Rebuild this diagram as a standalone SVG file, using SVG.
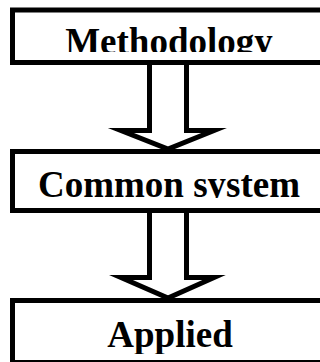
<svg xmlns="http://www.w3.org/2000/svg" width="320" height="362" viewBox="0 0 320 362">
<style>
.box{fill:#fff;stroke:#000;stroke-width:5}
.arr{fill:none;stroke:#000;stroke-width:5;stroke-linejoin:miter;stroke-miterlimit:10}
.lbl{font-family:"Liberation Serif","Times New Roman",serif;font-weight:bold;font-size:37px;fill:#000;text-anchor:middle}
</style>
<defs>
<clipPath id="c1"><rect x="0" y="0" width="320" height="52"/></clipPath>
<clipPath id="c2"><rect x="0" y="150" width="320" height="48"/></clipPath>
<clipPath id="c3"><rect x="0" y="300" width="320" height="54"/></clipPath>
</defs>
<rect width="320" height="362" fill="#fff"/>
<g id="node-methodology">
<rect class="box" x="12.5" y="10" width="330" height="52.5"/>
<text class="lbl" x="169" y="54" clip-path="url(#c1)">Methodology</text>
</g>
<g id="node-common">
<rect class="box" x="12.5" y="151.5" width="330" height="59"/>
<text class="lbl" x="169" y="197" clip-path="url(#c2)">Common system</text>
</g>
<g id="node-applied">
<rect class="box" x="12.5" y="300.5" width="330" height="62"/>
<text class="lbl" x="170" y="347" clip-path="url(#c3)">Applied</text>
</g>
<g id="connectors">
<polyline class="arr" points="149.5,62.5 149.5,130.5 121,130.5 168,149 214,130.5 186.5,130.5 186.5,62.5"/>
<polyline class="arr" points="149.5,210.5 149.5,277.5 121,277.5 168,298 214,277.5 186.5,277.5 186.5,210.5"/>
</g>
</svg>
